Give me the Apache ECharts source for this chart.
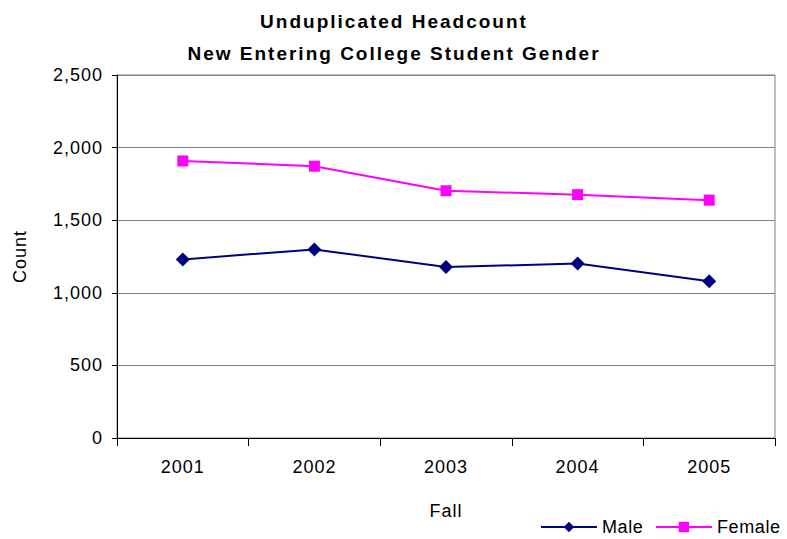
<!DOCTYPE html>
<html><head><meta charset="utf-8">
<script src="https://cdn.jsdelivr.net/npm/echarts@6/dist/echarts.min.js"></script>
<style>html,body{margin:0;padding:0;background:#fff}#c{width:787px;height:539px}</style>
</head><body><div id="c"></div>
<script>
const categories = ['2001','2002','2003','2004','2005'];
const male = [1230, 1299, 1177, 1202, 1080];
const female = [1908, 1872, 1703, 1676, 1638];
const yTicks = [0, 500, 1000, 1500, 2000, 2500];
const titleLines = ['Unduplicated Headcount', 'New Entering College Student Gender'];
const legendNames = ['Male', 'Female'];

const chart = echarts.init(document.getElementById('c'), null, {renderer: 'svg'});
const F = 'Liberation Sans, Arial, sans-serif';
chart.setOption({
  animation: false,
  title: {
    text: titleLines.join('\n'),
    left: 389, top: 0, textAlign: 'center',
    textStyle: {fontFamily: F, fontSize: 19, fontWeight: 'bold', color: '#000', lineHeight: 32}
  },
  legend: {
    right: 10, top: 518, padding: 0,
    itemWidth: 56, itemHeight: 13, itemGap: 14,
    textStyle: {fontFamily: F, fontSize: 18, color: '#000'},
    data: legendNames
  },
  grid: {left: 117, right: 12, top: 75, bottom: 101, show: true, borderColor: '#808080', borderWidth: 1},
  xAxis: {
    type: 'category', data: categories, boundaryGap: true,
    name: 'Fall', nameLocation: 'middle', nameGap: 64,
    nameTextStyle: {fontFamily: F, fontSize: 18, color: '#000'},
    axisLine: {lineStyle: {color: '#000'}},
    axisTick: {show: true, length: 8, lineStyle: {color: '#000'}},
    axisLabel: {fontFamily: F, fontSize: 18, color: '#000', margin: 20}
  },
  yAxis: {
    type: 'value', min: yTicks[0], max: yTicks[yTicks.length-1], interval: 500,
    name: 'Count', nameLocation: 'middle', nameGap: 88, nameRotate: 90,
    nameTextStyle: {fontFamily: F, fontSize: 18, color: '#000'},
    axisLine: {show: true, lineStyle: {color: '#000'}},
    axisTick: {show: true, length: 5, lineStyle: {color: '#000'}},
    axisLabel: {fontFamily: F, fontSize: 18, color: '#000', margin: 14,
      formatter: v => v.toLocaleString('en-US')},
    splitLine: {lineStyle: {color: '#808080', width: 1}}
  },
  series: [
    {name: 'Male', type: 'line', data: male, symbol: 'diamond', symbolSize: 14,
      lineStyle: {color: '#000080', width: 2}, itemStyle: {color: '#000080'}},
    {name: 'Female', type: 'line', data: female, symbol: 'rect', symbolSize: 11,
      lineStyle: {color: '#FF00FF', width: 2}, itemStyle: {color: '#FF00FF'}}
  ]
});
function spaceText() {
  document.querySelectorAll('#c svg text').forEach(t => {
    const s = t.textContent.trim();
    t.setAttribute('letter-spacing', titleLines.includes(s) ? '2' : (legendNames.includes(s) ? '0.6' : '1'));
  });
}
try { chart.getZr().flush(); } catch (e) {}
spaceText();
chart.on('finished', spaceText);
</script></body></html>
